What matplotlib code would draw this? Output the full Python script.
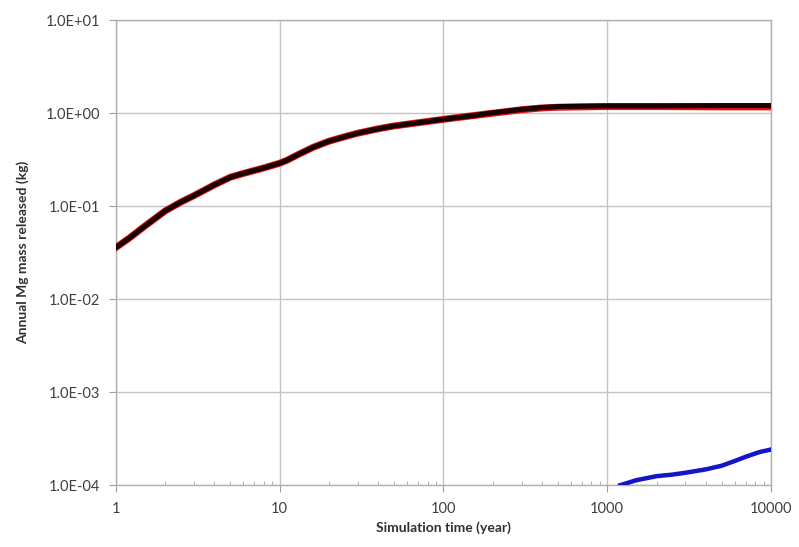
import numpy as np
import matplotlib.pyplot as plt
from matplotlib.ticker import FixedLocator, LogLocator, NullFormatter, NullLocator

plt.rcParams['font.family'] = ['Lato', 'DejaVu Sans']

# Annual Mg mass released over simulation time
time_main = [1, 1.2, 1.5, 2, 2.5, 3, 4, 5, 6, 7, 8, 10, 11, 13, 16, 20, 25, 30, 40, 50, 70,
             100, 150, 200, 300, 400, 500, 700, 1000, 2000, 5000, 10000]
mg_black = [0.036, 0.045, 0.061, 0.089, 0.111, 0.13, 0.17, 0.205, 0.225, 0.242, 0.258, 0.29,
            0.31, 0.36, 0.43, 0.5, 0.56, 0.61, 0.68, 0.73, 0.79, 0.86, 0.94, 1.01, 1.1,
            1.15, 1.18, 1.19, 1.2, 1.2, 1.21, 1.21]
mg_red = [0.036, 0.045, 0.061, 0.089, 0.111, 0.13, 0.17, 0.205, 0.225, 0.242, 0.258, 0.29,
          0.31, 0.36, 0.43, 0.5, 0.56, 0.61, 0.68, 0.73, 0.79, 0.86, 0.94, 1.0, 1.09,
          1.14, 1.16, 1.17, 1.18, 1.18, 1.17, 1.17]

time_blue = [1200, 1500, 2000, 2500, 3000, 4000, 5000, 6000, 7000, 8500, 10000]
mg_blue = [1.0e-4, 1.13e-4, 1.25e-4, 1.3e-4, 1.36e-4, 1.48e-4, 1.62e-4, 1.82e-4, 2.02e-4,
           2.27e-4, 2.42e-4]

y_ticks = [1e-4, 1e-3, 1e-2, 1e-1, 1e0, 1e1]
y_labels = ["1.0E-04", "1.0E-03", "1.0E-02", "1.0E-01", "1.0E+00", "1.0E+01"]
x_ticks = [1, 10, 100, 1000, 10000]
x_labels = ["1", "10", "100", "1000", "10000"]

fig = plt.figure(figsize=(7.99, 5.47), dpi=100)
ax = fig.add_axes([0.145, 0.113, 0.82, 0.85])

ax.plot(time_main, mg_red, color="#e01010", lw=5.0, solid_joinstyle="round", zorder=3)
ax.plot(time_main, mg_black, color="#1a0000", lw=3.6, solid_joinstyle="round", zorder=4)
ax.plot(time_blue, mg_blue, color="#1414c8", lw=3.2, solid_joinstyle="round", zorder=4)

ax.set_xscale("log")
ax.set_yscale("log")
ax.set_xlim(1, 10000)
ax.set_ylim(1e-4, 1e1)

ax.xaxis.set_major_locator(FixedLocator(x_ticks))
ax.set_xticklabels(x_labels)
ax.xaxis.set_minor_locator(LogLocator(base=10, subs=np.arange(2, 10)))
ax.xaxis.set_minor_formatter(NullFormatter())
ax.yaxis.set_major_locator(FixedLocator(y_ticks))
ax.set_yticklabels(y_labels)
ax.yaxis.set_minor_locator(NullLocator())

ax.grid(True, which="major", color="#c4c4c4", lw=1.0)
ax.tick_params(axis="x", which="major", length=5, color="#a0a0a0", labelsize=10.5,
               labelcolor="#404040", pad=7)
ax.tick_params(axis="x", which="minor", direction="in", length=3, color="#a0a0a0")
ax.tick_params(axis="y", which="major", length=5, color="#a0a0a0", labelsize=10.5,
               labelcolor="#404040", pad=6)

for side, spine in ax.spines.items():
    spine.set_color("#b0b0b0")
    spine.set_linewidth(1.0)

ax.set_xlabel("Simulation time (year)", fontsize=10, fontweight="bold", color="#303030", labelpad=4)
ax.set_ylabel("Annual Mg mass released (kg)", fontsize=10, fontweight="bold", color="#303030", labelpad=12)

fig.savefig("out.png", dpi=100, facecolor="white")
